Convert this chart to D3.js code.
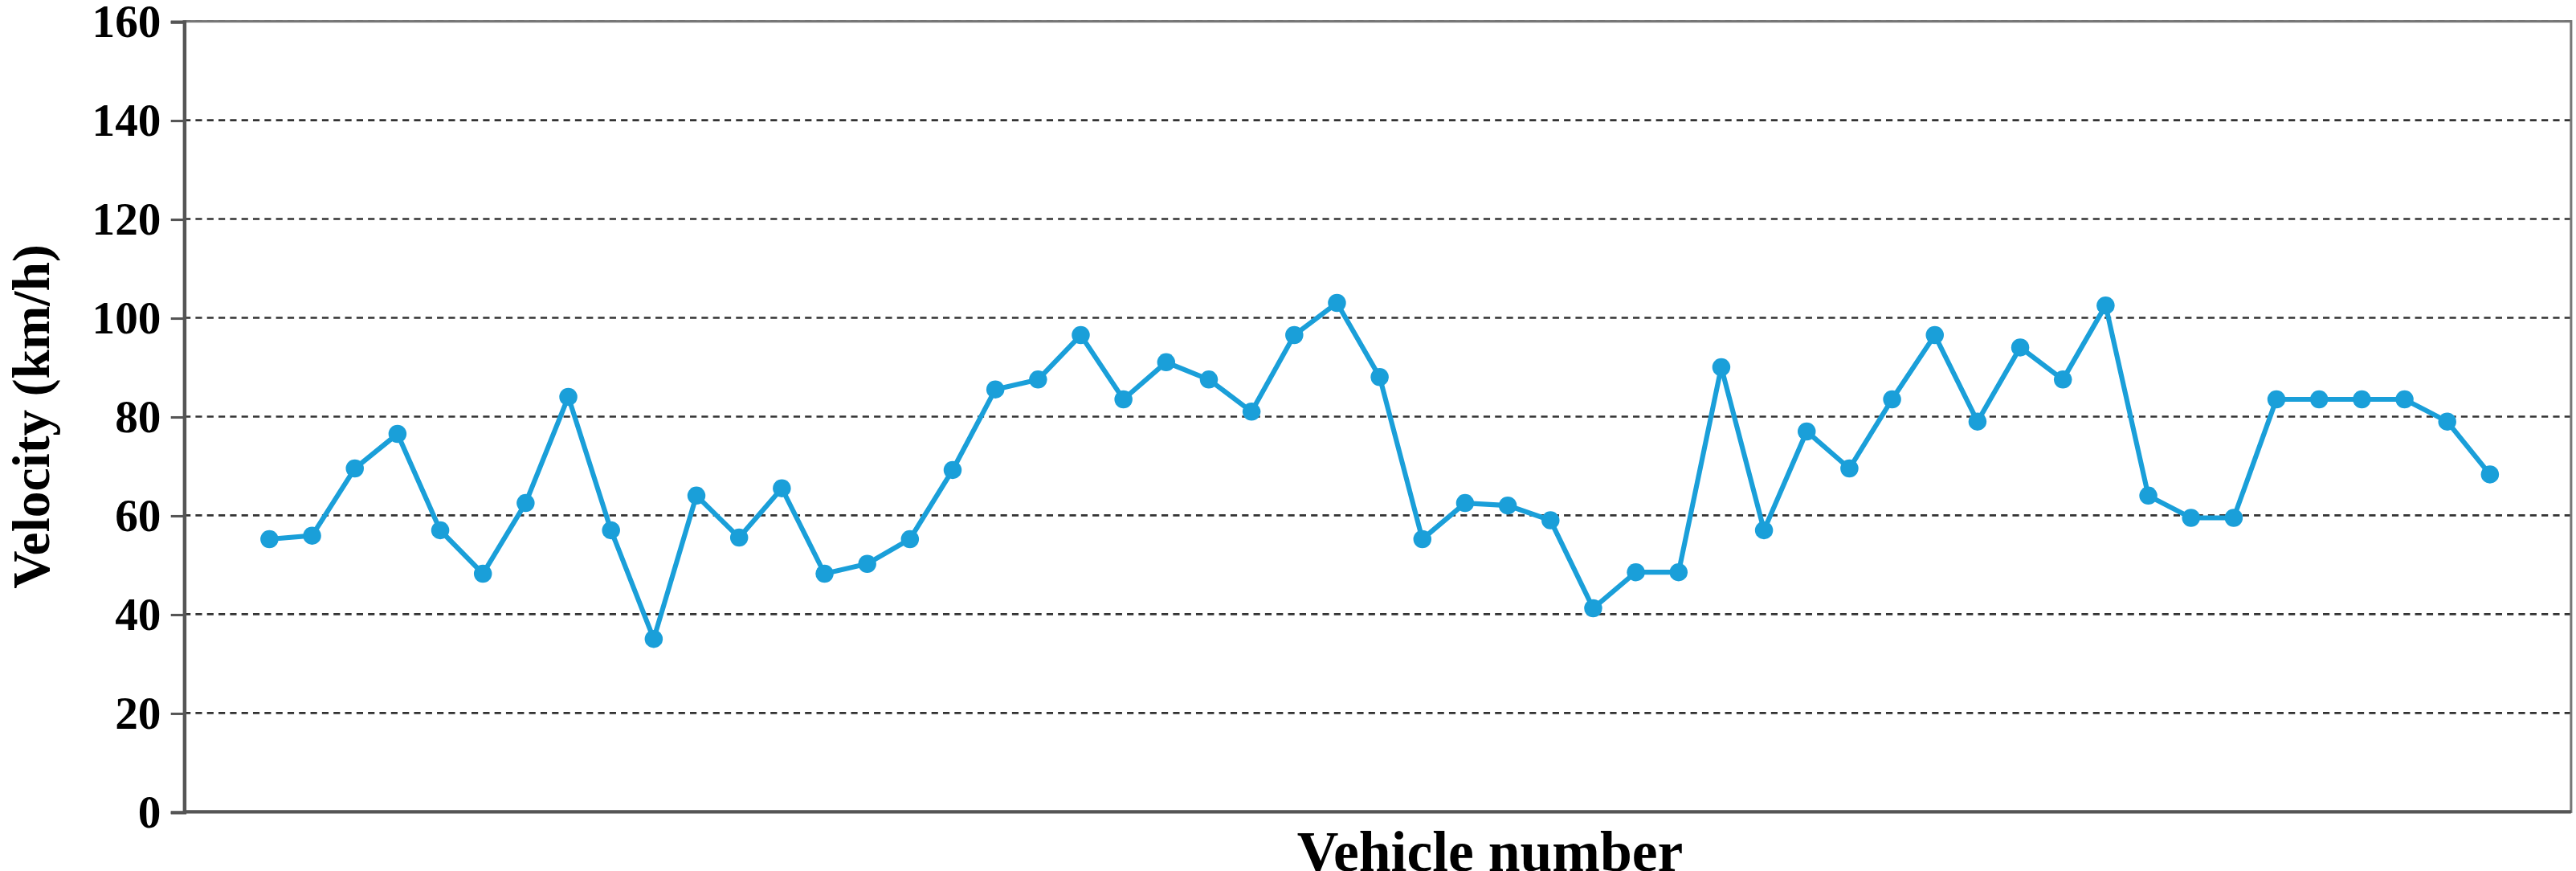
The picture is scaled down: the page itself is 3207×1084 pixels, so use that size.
<!DOCTYPE html>
<html><head><meta charset="utf-8">
<script src="https://cdn.jsdelivr.net/npm/d3@7"></script>
<style>body{margin:0;background:#fff}</style></head>
<body><div id="chart"></div>
<script>
// velocity of each vehicle, km/h
const velocity = [55.2, 55.9, 69.5, 76.5, 57, 48.2, 62.5, 84, 57, 35, 64, 55.5, 65.5, 48.2, 50.2, 55.2,
  69.2, 85.5, 87.5, 96.5, 83.5, 91, 87.5, 81, 96.5, 103, 88, 55.2, 62.5, 62, 59, 41.2, 48.5, 48.5,
  90, 57, 77, 69.5, 83.5, 96.5, 79, 94, 87.5, 102.5, 64, 59.5, 59.5, 83.5, 83.5, 83.5, 83.5, 79, 68.3]
const yTicks = [0, 20, 40, 60, 80, 100, 120, 140, 160]

const W = 1568, H = 530
const M = {LEFT: 112, RIGHT: 3, TOP: 13, BOTTOM: 36}
const WIDTH = W - M.LEFT - M.RIGHT
const HEIGHT = H - M.TOP - M.BOTTOM

const svg = d3.select("#chart").append("svg")
  .attr("width", 3207).attr("height", 1084)
  .attr("viewBox", `0 0 ${W} ${H}`)
  .style("font-family", "'Liberation Serif', serif")
  .style("font-weight", "bold")

const g = svg.append("g").attr("transform", `translate(${M.LEFT},${M.TOP})`)

const x = d3.scaleLinear().domain([-2, 53.9]).range([0, WIDTH])
const y = d3.scaleLinear().domain([0, 160]).range([HEIGHT, 0])

// dashed grid
g.selectAll(".grid").data(yTicks.slice(1)).enter().append("line")
  .attr("x1", 0).attr("x2", WIDTH)
  .attr("y1", d => y(d)).attr("y2", d => y(d))
  .attr("stroke", "#333").attr("stroke-width", 1.3).attr("stroke-dasharray", "4,3")

// frame
g.append("rect").attr("width", WIDTH).attr("height", HEIGHT)
  .attr("fill", "none").attr("stroke", "#777").attr("stroke-width", 1.5)

const yAxis = g.append("g").call(d3.axisLeft(y).tickValues(yTicks).tickSize(8).tickPadding(6))
yAxis.select(".domain").attr("stroke", "#555").attr("stroke-width", 2)
yAxis.selectAll(".tick line").attr("stroke", "#555").attr("stroke-width", 1.5)
yAxis.selectAll("text").attr("font-size", 28).attr("fill", "#000")
  .style("font-family", "'Liberation Serif', serif").style("font-weight", "bold")

g.append("line").attr("x1", 0).attr("x2", WIDTH).attr("y1", HEIGHT).attr("y2", HEIGHT)
  .attr("stroke", "#555").attr("stroke-width", 2)

// line + markers
const line = d3.line().x((d, i) => x(i)).y(d => y(d))
g.append("path").datum(velocity).attr("d", line)
  .attr("fill", "none").attr("stroke", "#1a9fd9").attr("stroke-width", 3)
g.selectAll(".pt").data(velocity).enter().append("circle")
  .attr("cx", (d, i) => x(i)).attr("cy", d => y(d)).attr("r", 5.5).attr("fill", "#1a9fd9")

// axis titles
svg.append("text").attr("x", 907).attr("y", 530).attr("text-anchor", "middle")
  .attr("font-size", 35).text("Vehicle number")
svg.append("text").attr("transform", `translate(30,${M.TOP + HEIGHT / 2}) rotate(-90)`)
  .attr("text-anchor", "middle").attr("font-size", 32).text("Velocity (km/h)")
</script></body></html>
